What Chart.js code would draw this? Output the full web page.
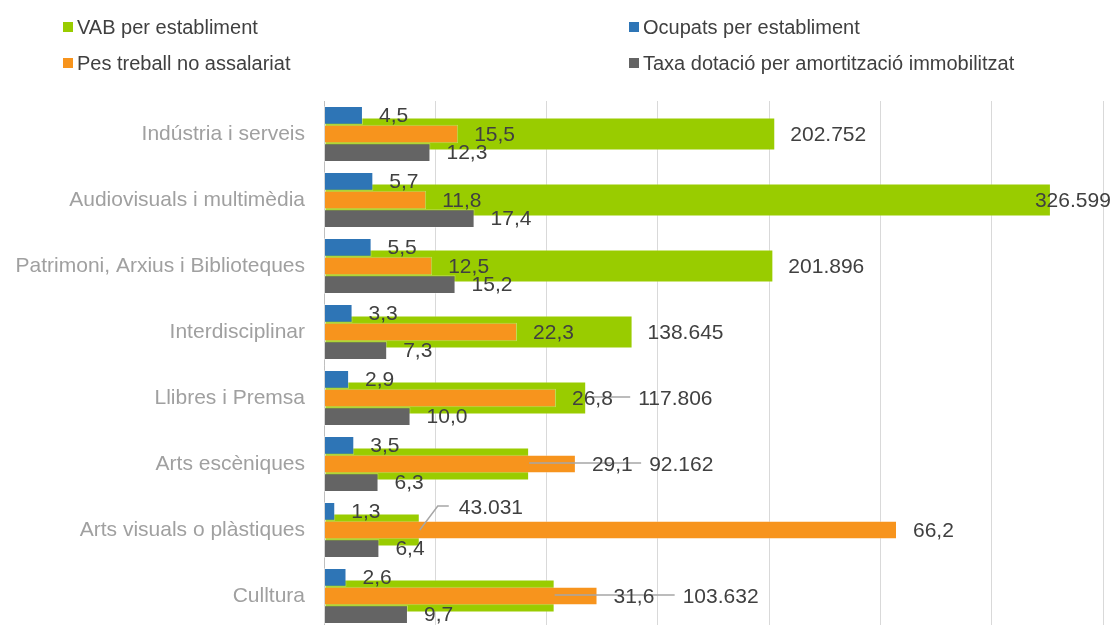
<!DOCTYPE html>
<html>
<head>
<meta charset="utf-8">
<script src="https://cdn.jsdelivr.net/npm/chart.js@4.4.1/dist/chart.umd.min.js"></script>
<style>
  html, body { margin: 0; padding: 0; background: #fff; overflow: hidden; }
  #wrap { position: relative; width: 1114px; height: 625px; overflow: hidden; }
  canvas { position: absolute; left: 0; top: 0; }
  #legend { position: absolute; left: 0; top: 0; font: 20px "Liberation Sans", Arial, sans-serif; color: #404040; }
  .item { position: absolute; display: flex; align-items: center; white-space: nowrap; line-height: 20px; }
  .item span { display: inline-block; width: 10px; height: 10px; margin-right: 4px; }
</style>
</head>
<body>
<div id="wrap">
  <canvas id="chart" width="1114" height="640"></canvas>
  <div id="legend"></div>
</div>
<script>
const categories = [
    'Indústria i serveis',
    'Audiovisuals i multimèdia',
    'Patrimoni, Arxius i Biblioteques',
    'Interdisciplinar',
    'Llibres i Premsa',
    'Arts escèniques',
    'Arts visuals o plàstiques',
    'Culltura'
];
const vab = [202752, 326599, 201896, 138645, 117806, 92162, 43031, 103632];
const ocupats = [4.5, 5.7, 5.5, 3.3, 2.9, 3.5, 1.3, 2.6];
const pesTreball = [15.5, 11.8, 12.5, 22.3, 26.8, 29.1, 66.2, 31.6];
const taxaDotacio = [12.3, 17.4, 15.2, 7.3, 10.0, 6.3, 6.4, 9.7];

// hand-moved VAB labels (offset from bar end), like in the original
const vabLabelPos = [null, { dx: -16 }, null, null,
    { dx: 52, line: 'flat' }, { dx: 120, line: 'flat' },
    { dx: 39, dy: -23, line: 'bent' }, { dx: 128, line: 'flat' }];

const colors = { vab: '#99cc00', ocupats: '#2e75b6', pes: '#f7941d', taxa: '#646464' };
const FONT = '"Liberation Sans", Arial, sans-serif';

const fmtDec = v => v.toFixed(1).replace('.', ',');
const fmtThousands = v => String(Math.round(v)).replace(/\B(?=(\d{3})+(?!\d))/g, '.');

// HTML legend, two columns
const legendItems = [
    { text: 'VAB per establiment', color: colors.vab, left: 63, top: 17 },
    { text: 'Pes treball no assalariat', color: colors.pes, left: 63, top: 53 },
    { text: 'Ocupats per establiment', color: colors.ocupats, left: 629, top: 17 },
    { text: 'Taxa dotació per amortització immobilitzat', color: colors.taxa, left: 629, top: 53 }
];
const legendEl = document.getElementById('legend');
legendItems.forEach(function(it) {
    const d = document.createElement('div');
    d.className = 'item';
    d.style.left = it.left + 'px';
    d.style.top = it.top + 'px';
    d.innerHTML = '<span style="background:' + it.color + '"></span>' + it.text;
    legendEl.appendChild(d);
});

const barLabels = {
    id: 'barLabels',
    afterDatasetsDraw(chart) {
        const ctx = chart.ctx;
        ctx.save();
        ctx.font = '21px ' + FONT;
        ctx.textBaseline = 'middle';
        ctx.textAlign = 'left';
        const texts = [];
        chart.data.datasets.forEach(function(ds, di) {
            const meta = chart.getDatasetMeta(di);
            meta.data.forEach(function(bar, i) {
                const v = ds.data[i];
                let x = bar.x + 16, y = bar.y + 1;
                if (ds.isVab) {
                    x = bar.x + 15;
                    const p = vabLabelPos[i];
                    if (p) {
                        x = bar.x + p.dx;
                        y = bar.y + 1 + (p.dy || 0);
                        ctx.strokeStyle = '#a6a6a6';
                        ctx.lineWidth = 1.5;
                        ctx.beginPath();
                        if (p.line === 'flat') {
                            ctx.moveTo(bar.x, bar.y - 1);
                            ctx.lineTo(x - 8, bar.y - 1);
                        } else if (p.line === 'bent') {
                            ctx.moveTo(bar.x, bar.y);
                            ctx.lineTo(x - 21, y - 2);
                            ctx.lineTo(x - 10, y - 2);
                        }
                        ctx.stroke();
                    }
                }
                texts.push({ t: ds.isVab ? fmtThousands(v) : fmtDec(v), x: x, y: y });
            });
        });
        ctx.fillStyle = '#404040';
        texts.forEach(function(o) { ctx.fillText(o.t, o.x, o.y); });
        ctx.restore();
    }
};

const common = { categoryPercentage: 0.85, barPercentage: 1, borderWidth: 1, borderSkipped: false, order: 1, xAxisID: 'x' };

new Chart(document.getElementById('chart').getContext('2d'), {
    type: 'bar',
    data: {
        labels: categories,
        datasets: [
            Object.assign({ label: 'Ocupats per establiment', data: ocupats, backgroundColor: colors.ocupats, borderColor: 'rgba(255,255,255,0.35)' }, common),
            Object.assign({ label: 'Pes treball no assalariat', data: pesTreball, backgroundColor: colors.pes, borderColor: 'rgba(255,255,255,0.35)' }, common),
            Object.assign({ label: 'Taxa dotació per amortització immobilitzat', data: taxaDotacio, backgroundColor: colors.taxa, borderColor: 'rgba(255,255,255,0.35)' }, common),
            {
                label: 'VAB per establiment', data: vab, isVab: true,
                backgroundColor: colors.vab, borderColor: 'rgba(255,255,255,0.35)', borderWidth: 1, borderSkipped: false,
                xAxisID: 'x2', grouped: false, order: 2,
                categoryPercentage: 0.5, barPercentage: 1
            }
        ]
    },
    options: {
        indexAxis: 'y',
        responsive: false,
        animation: false,
        events: [],
        layout: { padding: { top: 101, right: 11, bottom: 11, left: 0 } },
        plugins: { legend: { display: false }, tooltip: { enabled: false } },
        scales: {
            y: {
                grid: { display: false, drawTicks: false },
                border: { display: true, color: '#bfbfbf', width: 1 },
                ticks: { color: '#a0a0a0', font: { family: FONT, size: 21 }, padding: 19 },
                afterFit: function(scale) {
                    scale.width = 324;
                    scale.paddingTop = 0;
                    scale.paddingBottom = 0;
                }
            },
            x: { type: 'linear', display: false, min: 0, max: 90 },
            x2: {
                type: 'linear', position: 'bottom', min: 0, max: 350000,
                ticks: { display: false, stepSize: 50000 },
                grid: { color: '#d9d9d9', lineWidth: 1, drawTicks: false },
                border: { display: false },
                afterFit: function(scale) { scale.height = 0; }
            }
        }
    },
    plugins: [barLabels]
});
</script>
</body>
</html>
